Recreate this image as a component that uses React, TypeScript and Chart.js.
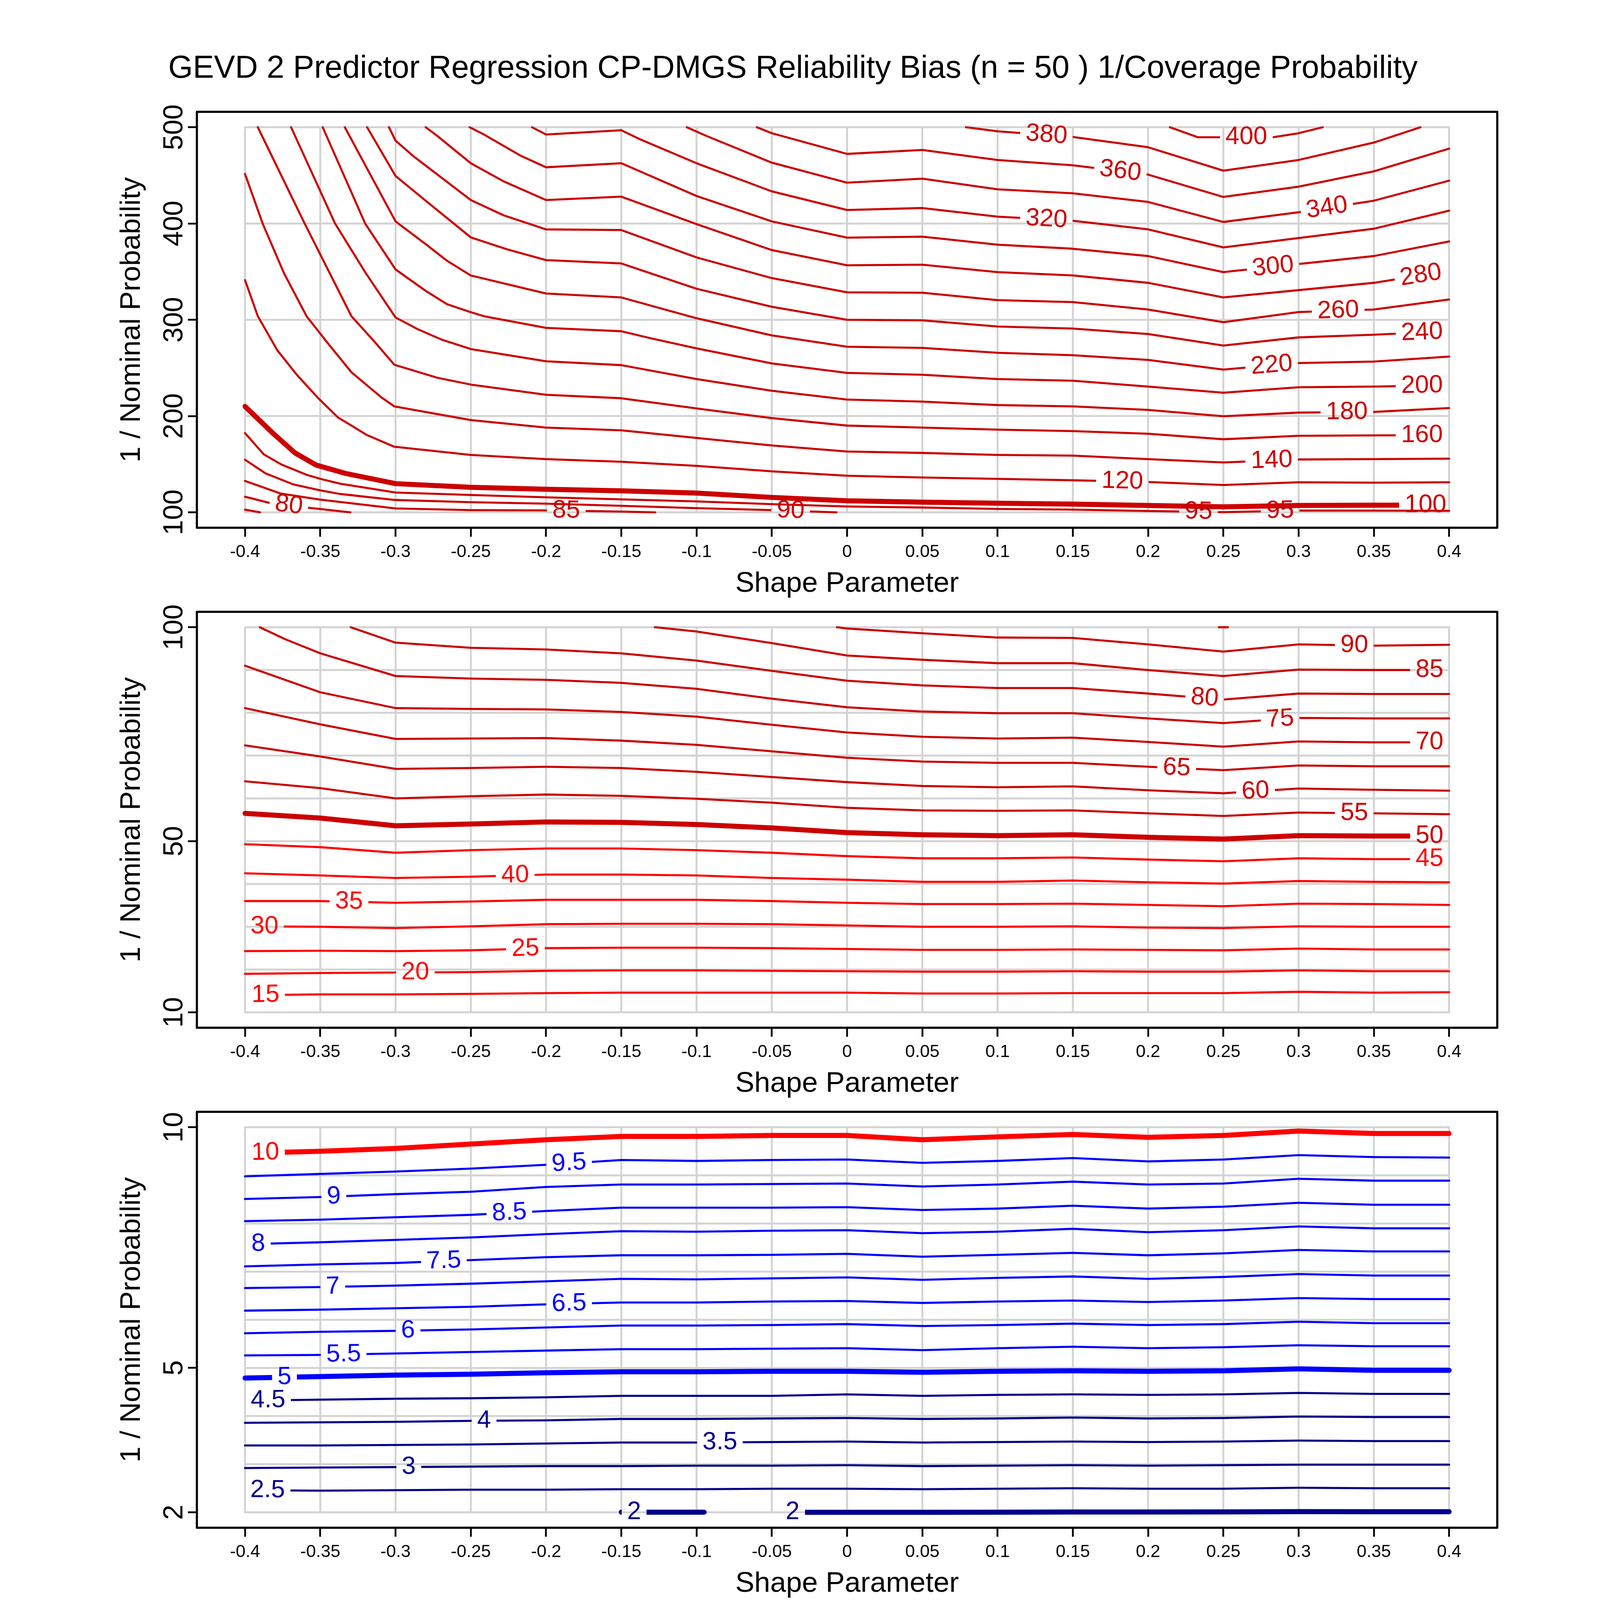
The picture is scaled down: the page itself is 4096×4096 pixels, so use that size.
import React, { useEffect, useRef } from 'react';
import { Chart, registerables } from 'chart.js';

Chart.register(...registerables);

type Pt = [number, number];

const FONT = "'Liberation Sans', Arial, Helvetica, sans-serif";

const TITLE = 'GEVD 2 Predictor Regression CP-DMGS Reliability Bias (n = 50 ) 1/Coverage Probability';
const X_TITLE = 'Shape Parameter';
const Y_TITLE = '1 / Nominal Probability';

const SHAPES = [-0.4, -0.35, -0.3, -0.25, -0.2, -0.15, -0.1, -0.05, 0, 0.05, 0.1, 0.15, 0.2, 0.25, 0.3, 0.35, 0.4];
const X_TICK_LABELS = ['-0.4', '-0.35', '-0.3', '-0.25', '-0.2', '-0.15', '-0.1', '-0.05', '0', '0.05', '0.1', '0.15', '0.2', '0.25', '0.3', '0.35', '0.4'];

const onShapes = (ys: number[]): Pt[] => ys.map((y, i) => [SHAPES[i], y] as Pt);

// ---------------- Panel 1 (100 - 500) ----------------
const P1_RANGE = [100, 500];
const P1_GRID_Y = [100, 200, 300, 400, 500];
const P1_TICKS_Y = [100, 200, 300, 400, 500];
const P1_BOLD = [100];
const P1_LEVELS = [75, 80, 85, 90, 95, 100, 120, 140, 160, 180, 200, 220, 240, 260, 280, 300, 320, 340, 360, 380, 400];
const P1_LINES: Pt[][] = [
  [[-0.4, 102.8], [-0.39, 100]],
  [[-0.4, 116.2], [-0.3838, 109.8], [-0.3574, 104.6], [-0.35, 103.4], [-0.33, 100]],
  [[-0.4, 132.6], [-0.3765, 119.6], [-0.35, 113.2], [-0.3, 104.0], [-0.25, 102.3], [-0.2, 102.0], [-0.1734, 101.4], [-0.15, 100.8], [-0.1275, 100]],
  [[-0.4, 154.6], [-0.3863, 140.4], [-0.3681, 129.1], [-0.35, 122.8], [-0.337, 119.1], [-0.3, 112.8], [-0.25, 110.5], [-0.2, 109.0], [-0.15, 106.8], [-0.1, 104.3], [-0.05, 102.3], [-0.007, 100]],
  [[-0.4, 182.3], [-0.3876, 160.3], [-0.3759, 149.7], [-0.3591, 139.0], [-0.35, 134.8], [-0.337, 129.8], [-0.3, 120.6], [-0.25, 118.0], [-0.2, 115.6], [-0.15, 113.5], [-0.1, 111.3], [-0.05, 108.5], [0, 106.1], [0.05, 105.0], [0.1, 103.5], [0.15, 102.8], [0.2, 101.4], [0.25, 100.2], [0.3, 101.9], [0.35, 101.8], [0.4, 101.6]],
  [[-0.4, 210], [-0.3915, 197.2], [-0.3811, 181.6], [-0.3668, 161.7], [-0.3526, 149.0], [-0.3332, 140.4], [-0.3, 129.8], [-0.25, 126.0], [-0.2, 124.0], [-0.15, 122.3], [-0.1, 120.0], [-0.05, 115.5], [0, 112.0], [0.05, 110.6], [0.1, 109.5], [0.15, 108.5], [0.2, 107.1], [0.25, 105.7], [0.3, 107.1], [0.35, 107.4], [0.4, 107.4]],
  [[-0.4, 341.2], [-0.3915, 303.7], [-0.3785, 268.2], [-0.3655, 242.7], [-0.3513, 218.5], [-0.3383, 198.6], [-0.3293, 190.1], [-0.3189, 180.2], [-0.3008, 168.1], [-0.25, 159.6], [-0.2, 155.3], [-0.15, 152.5], [-0.1, 148.3], [-0.05, 142.6], [0, 138.0], [0.05, 136.2], [0.1, 134.8], [0.15, 133.3], [0.2, 131.5], [0.25, 128.4], [0.3, 131.2], [0.35, 130.8], [0.4, 131.2]],
  [[-0.4, 451.5], [-0.3883, 400], [-0.374, 348], [-0.3591, 303.7], [-0.3448, 275.3], [-0.3293, 245.5], [-0.3098, 219.9], [-0.3008, 210.0], [-0.25, 195.8], [-0.2, 188.0], [-0.15, 185.2], [-0.1, 177.3], [-0.05, 169.5], [0, 163.2], [0.05, 161.7], [0.1, 159.6], [0.15, 158.9], [0.2, 155.3], [0.25, 151.8], [0.3, 154.9], [0.35, 155.3], [0.4, 155.8]],
  [[-0.3915, 500], [-0.3604, 400], [-0.3293, 303.7], [-0.3137, 276.7], [-0.3008, 253.3], [-0.2723, 239.8], [-0.25, 232.7], [-0.2, 222.1], [-0.15, 218.5], [-0.1, 207.9], [-0.05, 197.9], [0, 190.1], [0.05, 188.0], [0.1, 185.9], [0.15, 184.4], [0.2, 181.6], [0.25, 175.9], [0.3, 179.5], [0.35, 179.9], [0.4, 180.2]],
  [[-0.3694, 500], [-0.3402, 400], [-0.32, 349], [-0.3, 302.4], [-0.2852, 290.2], [-0.2697, 279.6], [-0.25, 269.6], [-0.2, 256.9], [-0.15, 252.9], [-0.1, 238.4], [-0.05, 226.3], [0, 217.1], [0.05, 215.0], [0.1, 211.4], [0.15, 210.0], [0.2, 206.4], [0.25, 199.8], [0.3, 203.6], [0.35, 204.3], [0.4, 208.3]],
  [[-0.3484, 500], [-0.3202, 400], [-0.3, 352.3], [-0.28, 330.1], [-0.2658, 316.2], [-0.25, 307.9], [-0.2412, 303.7], [-0.2, 291.6], [-0.15, 288.1], [-0.131, 281.0], [-0.1, 270.3], [-0.05, 254.7], [0, 244.8], [0.05, 242.9], [0.1, 238.4], [0.15, 236.7], [0.2, 230.6], [0.25, 224.2], [0.3, 229.9], [0.35, 230.6], [0.4, 232.0]],
  [[-0.3337, 500], [-0.3, 402.2], [-0.28, 378.6], [-0.2658, 361.3], [-0.25, 346.0], [-0.2, 327.3], [-0.15, 323.2], [-0.1, 301.6], [-0.05, 283.8], [0, 272.0], [0.05, 270.8], [0.1, 265.7], [0.15, 263.2], [0.2, 258.3], [0.25, 248.3], [0.3, 255.1], [0.35, 256.6], [0.4, 261.8]],
  [[-0.3189, 500], [-0.3, 449.4], [-0.28, 423.7], [-0.25, 385.6], [-0.2257, 373.1], [-0.2, 362.0], [-0.15, 358.5], [-0.1, 332.2], [-0.05, 313.5], [0, 300.0], [0.05, 299.4], [0.1, 293.0], [0.15, 290.9], [0.2, 285.2], [0.25, 273.2], [0.3, 281.7], [0.35, 284.5], [0.4, 288.0]],
  [[-0.3044, 500], [-0.3, 486.1], [-0.2878, 469.5], [-0.25, 424.4], [-0.2282, 408.5], [-0.2, 393.9], [-0.15, 393.2], [-0.1, 364.8], [-0.05, 343.3], [0, 328.5], [0.05, 328.1], [0.1, 320.4], [0.15, 318.4], [0.2, 310.7], [0.25, 297.5], [0.3, 308.0], [0.35, 310.7], [0.4, 321.1]],
  [[-0.28, 500], [-0.2723, 491.0], [-0.25, 462.6], [-0.2282, 443.8], [-0.2, 424.4], [-0.15, 427.9], [-0.1, 399.4], [-0.05, 372.4], [0, 356.6], [0.05, 357.2], [0.1, 349.5], [0.15, 346.1], [0.2, 338.4], [0.25, 323.2], [0.3, 330.8], [0.35, 338.4], [0.4, 350.9]],
  [[-0.2508, 500], [-0.2412, 492.4], [-0.2166, 470.2], [-0.2, 458.4], [-0.15, 462.6], [-0.1, 428.6], [-0.05, 402.2], [0, 385.3], [0.05, 386.3], [0.1, 378.0], [0.15, 373.8], [0.2, 366.2], [0.25, 349.5], [0.3, 357.9], [0.35, 366.2], [0.4, 381.4]],
  [[-0.2093, 500], [-0.2, 492.4], [-0.15, 496.9], [-0.1376, 487.5], [-0.1, 462.6], [-0.05, 433.4], [0, 414.0], [0.05, 416.1], [0.1, 407.1], [0.15, 402.9], [0.2, 393.9], [0.25, 375.2], [0.3, 384.9], [0.35, 394.6], [0.4, 413.3]],
  [[-0.1065, 500], [-0.0935, 491.0], [-0.05, 463.2], [0, 442.4], [0.05, 446.6], [0.1, 435.5], [0.15, 431.4], [0.2, 422.4], [0.25, 401.6], [0.3, 411.7], [0.35, 423.7], [0.4, 444.5]],
  [[-0.06, 500], [-0.05, 493.8], [0, 472.3], [0.05, 476.4], [0.1, 466.0], [0.15, 460.5], [0.2, 450.8], [0.25, 427.6], [0.3, 438.3], [0.35, 454.2], [0.4, 477.8]],
  [[0.079, 500], [0.1, 495.8], [0.15, 489.9], [0.2, 479.2], [0.25, 454.9], [0.3, 466.0], [0.35, 484.1], [0.381, 500]],
  [[0.2145, 500], [0.233, 489.6], [0.25, 489.6], [0.283, 489.6], [0.3, 493.8], [0.316, 500]],
];
const P1_LABEL_AT: number[][] = [
  [], [-0.3709], [-0.1866], [-0.0375], [0.2335, 0.2877], [0.3843], [0.1829], [0.2821], [0.382], [0.3321],
  [0.382], [0.2821], [0.382], [0.3263], [0.3812], [0.283], [0.1325], [0.3188], [0.1816], [0.1325], [0.2653],
];

// ---------------- Panel 2 (10 - 100) ----------------
const P2_RANGE = [10, 100];
const P2_GRID_Y = [10, 20, 30, 40, 50, 60, 70, 80, 90, 100];
const P2_TICKS_Y = [10, 50, 100];
const P2_BOLD = [50];
const P2_LEVELS = [15, 20, 25, 30, 35, 40, 45, 50, 55, 60, 65, 70, 75, 80, 85, 90, 95];
const P2_LINES: Pt[][] = [
  onShapes([14.0, 14.2, 14.2, 14.3, 14.5, 14.6, 14.6, 14.6, 14.6, 14.4, 14.4, 14.5, 14.5, 14.5, 14.8, 14.6, 14.7]),
  onShapes([19.0, 19.2, 19.3, 19.4, 19.7, 19.8, 19.8, 19.7, 19.6, 19.5, 19.5, 19.6, 19.5, 19.5, 19.8, 19.6, 19.6]),
  onShapes([24.3, 24.4, 24.3, 24.5, 25.0, 25.1, 25.1, 25.0, 24.8, 24.6, 24.6, 24.7, 24.6, 24.5, 24.9, 24.7, 24.7]),
  onShapes([30.1, 30.0, 29.7, 30.1, 30.6, 30.7, 30.7, 30.6, 30.3, 30.0, 30.0, 30.1, 29.8, 29.7, 30.1, 30.0, 30.0]),
  onShapes([36.0, 36.0, 35.6, 35.9, 36.3, 36.3, 36.3, 36.0, 35.6, 35.3, 35.3, 35.4, 35.1, 34.8, 35.4, 35.3, 35.1]),
  onShapes([42.5, 42.0, 41.4, 41.7, 42.2, 42.2, 42.0, 41.4, 41.0, 40.5, 40.5, 40.8, 40.4, 40.1, 40.7, 40.5, 40.4]),
  onShapes([49.3, 48.6, 47.3, 47.9, 48.3, 48.3, 47.9, 47.3, 46.5, 46.0, 46.0, 46.2, 45.7, 45.3, 46.0, 45.8, 45.8]),
  onShapes([56.5, 55.4, 53.6, 54.0, 54.5, 54.4, 53.9, 53.1, 52.0, 51.5, 51.3, 51.5, 50.9, 50.5, 51.3, 51.2, 51.2]),
  onShapes([64.0, 62.4, 60.0, 60.5, 60.9, 60.6, 59.9, 59.0, 57.8, 57.2, 57.1, 57.2, 56.5, 55.9, 56.7, 56.5, 56.3]),
  onShapes([72.4, 69.8, 66.9, 67.1, 67.4, 67.1, 66.2, 65.0, 63.8, 62.9, 62.6, 62.8, 61.9, 61.2, 62.3, 62.0, 61.8]),
  onShapes([81.1, 77.3, 73.9, 74.0, 74.1, 73.5, 72.5, 71.0, 69.5, 68.6, 68.3, 68.3, 67.4, 66.6, 67.7, 67.5, 67.5]),
  onShapes([91.0, 84.8, 81.1, 80.9, 80.8, 80.2, 79.1, 77.2, 75.4, 74.4, 74.0, 74.2, 73.2, 72.1, 73.3, 73.1, 73.1]),
  [[-0.3902, 100], [-0.3733, 97.2], [-0.35, 93.9], [-0.3, 88.6], [-0.25, 88.0], [-0.2, 87.7], [-0.15, 87.0], [-0.1, 85.6], [-0.05, 83.3], [0, 81.3], [0.05, 80.3], [0.1, 79.9], [0.15, 79.9], [0.2, 78.7], [0.25, 77.6], [0.3, 78.8], [0.35, 78.7], [0.4, 78.7]],
  [[-0.3298, 100], [-0.3, 96.4], [-0.25, 95.2], [-0.2, 94.8], [-0.15, 93.9], [-0.1, 92.2], [-0.05, 89.8], [0, 87.5], [0.05, 86.4], [0.1, 85.8], [0.15, 85.8], [0.2, 84.5], [0.25, 83.1], [0.3, 84.5], [0.35, 84.4], [0.4, 84.4]],
  [[-0.1277, 100], [-0.1, 99.0], [-0.05, 96.3], [0, 93.4], [0.05, 92.4], [0.1, 91.6], [0.15, 91.6], [0.2, 90.0], [0.25, 88.6], [0.3, 90.1], [0.35, 90.0], [0.4, 90.0]],
  [[-0.0067, 100], [0, 99.7], [0.05, 98.6], [0.1, 97.6], [0.15, 97.5], [0.2, 96.0], [0.25, 94.3], [0.3, 96.0], [0.35, 95.7], [0.4, 95.9]],
  [[0.247, 100], [0.253, 100]],
];
const P2_LABEL_AT: number[][] = [
  [-0.3864], [-0.2869], [-0.2137], [-0.3871], [-0.3309], [-0.2205], [0.387], [0.387], [0.337],
  [0.2714], [0.219], [0.387], [0.2877], [0.2376], [0.387], [0.337], [],
];

// ---------------- Panel 3 (2 - 10) ----------------
const P3_RANGE = [2, 10];
const P3_GRID_Y = [2, 3, 4, 5, 6, 7, 8, 9, 10];
const P3_TICKS_Y = [2, 5, 10];
const P3_BOLD = [2, 5, 10];
const P3_LEVELS = [2, 2, 2.5, 3, 3.5, 4, 4.5, 5, 5.5, 6, 6.5, 7, 7.5, 8, 8.5, 9, 9.5, 10];
const P3_LINES: Pt[][] = [
  [[-0.15, 2.003], [-0.095, 2.003]],
  [[-0.042, 2.0], [0, 2.0], [0.05, 2.0], [0.1, 2.003], [0.15, 2.006], [0.2, 2.006], [0.25, 2.008], [0.3, 2.015], [0.35, 2.012], [0.4, 2.012]],
  onShapes([2.46, 2.45, 2.46, 2.47, 2.47, 2.48, 2.48, 2.49, 2.49, 2.48, 2.49, 2.50, 2.49, 2.49, 2.51, 2.50, 2.50]),
  onShapes([2.92, 2.93, 2.94, 2.95, 2.96, 2.96, 2.97, 2.97, 2.98, 2.96, 2.97, 2.98, 2.97, 2.98, 2.99, 2.99, 2.99]),
  onShapes([3.39, 3.39, 3.40, 3.41, 3.43, 3.45, 3.45, 3.46, 3.47, 3.45, 3.46, 3.47, 3.46, 3.47, 3.49, 3.48, 3.48]),
  onShapes([3.86, 3.87, 3.88, 3.90, 3.91, 3.94, 3.94, 3.95, 3.96, 3.94, 3.95, 3.97, 3.95, 3.96, 3.99, 3.98, 3.98]),
  onShapes([4.32, 4.34, 4.36, 4.37, 4.39, 4.42, 4.42, 4.42, 4.45, 4.42, 4.44, 4.45, 4.44, 4.45, 4.48, 4.46, 4.46]),
  onShapes([4.79, 4.82, 4.85, 4.87, 4.90, 4.92, 4.92, 4.93, 4.93, 4.91, 4.93, 4.94, 4.93, 4.94, 4.98, 4.95, 4.95]),
  onShapes([5.26, 5.27, 5.30, 5.33, 5.36, 5.39, 5.39, 5.40, 5.41, 5.37, 5.41, 5.44, 5.41, 5.43, 5.47, 5.45, 5.45]),
  onShapes([5.72, 5.75, 5.77, 5.80, 5.84, 5.88, 5.88, 5.89, 5.91, 5.87, 5.89, 5.92, 5.89, 5.91, 5.96, 5.93, 5.93]),
  onShapes([6.19, 6.21, 6.24, 6.27, 6.32, 6.36, 6.36, 6.38, 6.39, 6.35, 6.38, 6.40, 6.37, 6.40, 6.45, 6.43, 6.43]),
  onShapes([6.66, 6.68, 6.71, 6.75, 6.80, 6.85, 6.84, 6.86, 6.88, 6.83, 6.87, 6.90, 6.85, 6.89, 6.95, 6.92, 6.92]),
  onShapes([7.11, 7.15, 7.18, 7.24, 7.30, 7.34, 7.34, 7.35, 7.37, 7.31, 7.35, 7.39, 7.34, 7.38, 7.45, 7.42, 7.42]),
  onShapes([7.57, 7.61, 7.66, 7.71, 7.78, 7.84, 7.83, 7.85, 7.86, 7.80, 7.83, 7.89, 7.82, 7.86, 7.94, 7.90, 7.90]),
  onShapes([8.05, 8.08, 8.13, 8.18, 8.26, 8.33, 8.33, 8.33, 8.34, 8.28, 8.31, 8.37, 8.31, 8.35, 8.43, 8.39, 8.39]),
  onShapes([8.51, 8.55, 8.61, 8.66, 8.76, 8.81, 8.81, 8.82, 8.83, 8.77, 8.81, 8.87, 8.81, 8.83, 8.93, 8.89, 8.89]),
  onShapes([8.98, 9.03, 9.08, 9.14, 9.22, 9.32, 9.30, 9.32, 9.33, 9.26, 9.30, 9.36, 9.29, 9.33, 9.42, 9.38, 9.37]),
  onShapes([9.46, 9.50, 9.56, 9.65, 9.74, 9.81, 9.81, 9.83, 9.83, 9.74, 9.80, 9.85, 9.79, 9.83, 9.92, 9.87, 9.87]),
];
const P3_LABEL_AT: number[][] = [
  [-0.1415], [-0.0362], [-0.385], [-0.2912], [-0.0845], [-0.2412], [-0.3847], [-0.3738], [-0.3345],
  [-0.2917], [-0.1847], [-0.3417], [-0.2679], [-0.3912], [-0.2244], [-0.341], [-0.1847], [-0.3865],
];

// ---------------- Layout / style ----------------
const W = 4096;
const PANEL_H = 1280;
const TOP_SPACE = 256;
const AREA_LEFT = 504;
const AREA_RIGHT = 3833;
const AREA_TOP = 30.3;
const AREA_BOTTOM = 1095;
const THIN_W = 5.3;
const BOLD_W = 13;
const GRID_W = 5.0;
const GRID_COLOR = '#D3D3D3';
const FRAME_W = 5.5;
const TICK_LEN = 23;
const TICK_W = 4.6;
const LABEL_SIZE = 64;
const LABEL_PAD = 14;
const YTICK_SIZE = 70;
const YTICK_BASE_X = 467;
const XTICK_SIZE = 45;
const AXIS_TITLE_SIZE = 73;
const TITLE_SIZE = 81;
const TITLE_SHIFT_X = -18;

interface Panel {
  range: number[];
  gridY: number[];
  ticksY: number[];
  bold: number[];
  levels: number[];
  lines: Pt[][];
  labelAt: number[][];
}

const PANELS: Panel[] = [
  { range: P1_RANGE, gridY: P1_GRID_Y, ticksY: P1_TICKS_Y, bold: P1_BOLD, levels: P1_LEVELS, lines: P1_LINES, labelAt: P1_LABEL_AT },
  { range: P2_RANGE, gridY: P2_GRID_Y, ticksY: P2_TICKS_Y, bold: P2_BOLD, levels: P2_LEVELS, lines: P2_LINES, labelAt: P2_LABEL_AT },
  { range: P3_RANGE, gridY: P3_GRID_Y, ticksY: P3_TICKS_Y, bold: P3_BOLD, levels: P3_LEVELS, lines: P3_LINES, labelAt: P3_LABEL_AT },
];

function levelColor(level: number): string {
  if (level >= 50) return '#CC0000';
  if (level >= 10) return '#FF0000';
  if (level >= 5) return '#0000FF';
  return '#00008B';
}

function yAt(pts: { x: number; y: number }[], px: number): number {
  if (px <= pts[0].x) return pts[0].y;
  for (let i = 1; i < pts.length; i++) {
    if (px <= pts[i].x) {
      const a = pts[i - 1];
      const b = pts[i];
      const d = b.x - a.x || 1;
      return a.y + ((px - a.x) / d) * (b.y - a.y);
    }
  }
  return pts[pts.length - 1].y;
}

interface LabelGeo { px: number; py: number; ang: number; w: number; hwL: number; hwR: number; text: string }

function labelGeometry(chart: any, panel: Panel, idx: number): LabelGeo[] {
  const xs = chart.scales.x;
  const ys = chart.scales.y;
  const at = panel.labelAt[idx] || [];
  if (!at.length) return [];
  const line = panel.lines[idx];
  const pts = line.map(([x, y]) => ({ x: xs.getPixelForValue(x), y: ys.getPixelForValue(y) }));
  const level = panel.levels[idx];
  const lw = panel.bold.includes(level) ? BOLD_W : THIN_W;
  const text = String(level);
  const ctx = chart.ctx as CanvasRenderingContext2D;
  ctx.save();
  ctx.font = `${LABEL_SIZE}px ${FONT}`;
  const w = ctx.measureText(text).width;
  ctx.restore();
  const startsAtEdge = Math.abs(line[0][0] - SHAPES[0]) < 1e-9;
  const endsAtEdge = Math.abs(line[line.length - 1][0] - SHAPES[SHAPES.length - 1]) < 1e-9;
  const sx = pts[0].x;
  const ex = pts[pts.length - 1].x;
  return at.map((lx) => {
    const px = xs.getPixelForValue(lx);
    const py = yAt(pts, px);
    const yl = yAt(pts, px - w / 2);
    const yr = yAt(pts, px + w / 2);
    const ang = Math.atan2(yr - yl, w);
    let hwL = w / 2 + LABEL_PAD;
    let hwR = w / 2 + LABEL_PAD;
    if (startsAtEdge && px - hwL - sx < lw * 1.5) hwL = px - sx + lw;
    if (endsAtEdge && ex - (px + hwR) < lw * 1.5) hwR = ex - px + lw;
    return { px, py, ang, w, hwL, hwR, text };
  });
}

function makePlugins(panel: Panel) {
  const clipped: Record<number, boolean> = {};

  const gridPlugin = {
    id: 'dataGrid',
    beforeDatasetsDraw(chart: any) {
      const ctx = chart.ctx as CanvasRenderingContext2D;
      const xs = chart.scales.x;
      const ys = chart.scales.y;
      const x0 = xs.getPixelForValue(SHAPES[0]);
      const x1 = xs.getPixelForValue(SHAPES[SHAPES.length - 1]);
      const y0 = ys.getPixelForValue(panel.range[0]);
      const y1 = ys.getPixelForValue(panel.range[1]);
      ctx.save();
      ctx.strokeStyle = GRID_COLOR;
      ctx.lineWidth = GRID_W;
      ctx.lineCap = 'butt';
      ctx.beginPath();
      SHAPES.forEach((v) => {
        const px = xs.getPixelForValue(v);
        ctx.moveTo(px, y1 - GRID_W / 2);
        ctx.lineTo(px, y0 + GRID_W / 2);
      });
      panel.gridY.forEach((v) => {
        const py = ys.getPixelForValue(v);
        ctx.moveTo(x0 - GRID_W / 2, py);
        ctx.lineTo(x1 + GRID_W / 2, py);
      });
      ctx.stroke();
      ctx.restore();
    },
  };

  const labelPlugin = {
    id: 'contourLabels',
    beforeDatasetDraw(chart: any, args: any) {
      const idx = args.index;
      const geos = labelGeometry(chart, panel, idx);
      if (!geos.length) return;
      const ctx = chart.ctx as CanvasRenderingContext2D;
      ctx.save();
      ctx.beginPath();
      ctx.rect(0, 0, chart.width, chart.height);
      const hh = LABEL_SIZE * 0.42;
      geos.forEach((g) => {
        const c = Math.cos(g.ang);
        const s = Math.sin(g.ang);
        const corners = [[-g.hwL, -hh], [g.hwR, -hh], [g.hwR, hh], [-g.hwL, hh]].map(([a, b]) => [g.px + a * c - b * s, g.py + a * s + b * c]);
        ctx.moveTo(corners[0][0], corners[0][1]);
        for (let k = 1; k < 4; k++) ctx.lineTo(corners[k][0], corners[k][1]);
        ctx.closePath();
      });
      ctx.clip('evenodd');
      clipped[idx] = true;
    },
    afterDatasetDraw(chart: any, args: any) {
      const idx = args.index;
      if (!clipped[idx]) return;
      const ctx = chart.ctx as CanvasRenderingContext2D;
      ctx.restore();
      clipped[idx] = false;
      const geos = labelGeometry(chart, panel, idx);
      const color = levelColor(panel.levels[idx]);
      geos.forEach((g) => {
        ctx.save();
        ctx.fillStyle = color;
        ctx.font = `${LABEL_SIZE}px ${FONT}`;
        ctx.textAlign = 'center';
        ctx.textBaseline = 'middle';
        ctx.translate(g.px, g.py);
        ctx.rotate(g.ang);
        ctx.fillText(g.text, 0, 0);
        ctx.restore();
      });
    },
  };

  const framePlugin = {
    id: 'frameAndYLabels',
    afterDatasetsDraw(chart: any) {
      const ctx = chart.ctx as CanvasRenderingContext2D;
      const a = chart.chartArea;
      ctx.save();
      ctx.strokeStyle = '#000';
      ctx.lineWidth = FRAME_W;
      ctx.lineJoin = 'round';
      ctx.strokeRect(a.left, a.top, a.right - a.left, a.bottom - a.top);
      const ys = chart.scales.y;
      ctx.fillStyle = '#000';
      ctx.font = `${YTICK_SIZE}px ${FONT}`;
      ctx.textAlign = 'center';
      ctx.textBaseline = 'alphabetic';
      panel.ticksY.forEach((v) => {
        const py = ys.getPixelForValue(v);
        ctx.save();
        ctx.translate(YTICK_BASE_X, py);
        ctx.rotate(-Math.PI / 2);
        ctx.fillText(String(v), 0, 0);
        ctx.restore();
      });
      ctx.restore();
    },
  };

  return [gridPlugin, labelPlugin, framePlugin];
}

function buildChart(canvas: HTMLCanvasElement, panel: Panel): Chart {
  const [lo, hi] = panel.range;
  const ext = (hi - lo) * 0.04;
  const xExt = (SHAPES[SHAPES.length - 1] - SHAPES[0]) * 0.04;
  const datasets = panel.lines.map((line, i) => {
    const level = panel.levels[i];
    const color = levelColor(level);
    return {
      label: String(level),
      data: line.map(([x, y]) => ({ x, y })),
      showLine: true,
      borderColor: color,
      backgroundColor: color,
      borderWidth: panel.bold.includes(level) ? BOLD_W : THIN_W,
      borderCapStyle: 'round' as const,
      borderJoinStyle: 'round' as const,
      pointRadius: 0,
      pointHoverRadius: 0,
      pointHitRadius: 0,
      tension: 0,
      fill: false,
    };
  });

  const tickGrid = {
    display: true,
    drawOnChartArea: false,
    drawTicks: true,
    tickLength: TICK_LEN,
    tickWidth: TICK_W,
    tickColor: '#000',
    color: '#000',
  };

  return new Chart(canvas, {
    type: 'scatter',
    data: { datasets },
    plugins: makePlugins(panel) as any,
    options: {
      animation: false,
      responsive: false,
      maintainAspectRatio: false,
      devicePixelRatio: 1,
      events: [],
      layout: { padding: { left: 0, right: W - AREA_RIGHT, top: AREA_TOP, bottom: 0 } },
      plugins: { legend: { display: false }, tooltip: { enabled: false }, title: { display: false } },
      scales: {
        x: {
          type: 'linear',
          position: 'bottom',
          min: SHAPES[0] - xExt,
          max: SHAPES[SHAPES.length - 1] + xExt,
          afterBuildTicks: (s: any) => {
            s.ticks = SHAPES.map((v) => ({ value: v }));
          },
          afterFit: (s: any) => {
            s.height = PANEL_H - AREA_BOTTOM;
          },
          ticks: {
            callback: (_v: any, i: number) => X_TICK_LABELS[i],
            font: { family: FONT, size: XTICK_SIZE },
            color: '#000',
            padding: 13,
            maxRotation: 0,
            minRotation: 0,
            autoSkip: false,
          },
          grid: tickGrid,
          border: { display: false },
          title: {
            display: true,
            text: X_TITLE,
            color: '#000',
            font: { family: FONT, size: AXIS_TITLE_SIZE },
            padding: { top: 0, bottom: -3 },
          },
        },
        y: {
          type: 'linear',
          position: 'left',
          min: lo - ext,
          max: hi + ext,
          afterBuildTicks: (s: any) => {
            s.ticks = panel.ticksY.map((v) => ({ value: v }));
          },
          afterFit: (s: any) => {
            s.width = AREA_LEFT;
          },
          ticks: { display: false },
          grid: tickGrid,
          border: { display: false },
          title: {
            display: true,
            text: Y_TITLE,
            color: '#000',
            font: { family: FONT, size: AXIS_TITLE_SIZE },
            padding: { top: 294, bottom: 0 },
          },
        },
      },
    } as any,
  });
}

export default function App() {
  const refs = useRef<(HTMLCanvasElement | null)[]>([]);

  useEffect(() => {
    const charts: Chart[] = [];
    PANELS.forEach((p, i) => {
      const c = refs.current[i];
      if (c) charts.push(buildChart(c, p));
    });
    return () => {
      charts.forEach((c) => c.destroy());
    };
  }, []);

  return (
    <div style={{ position: 'fixed', left: 0, top: 0, width: W, height: 4096, background: '#fff', overflow: 'hidden' }}>
      <div
        style={{
          position: 'absolute',
          left: TITLE_SHIFT_X,
          top: 130.8,
          width: W,
          textAlign: 'center',
          fontFamily: FONT,
          fontSize: TITLE_SIZE,
          lineHeight: `${TITLE_SIZE}px`,
          whiteSpace: 'nowrap',
          color: '#000',
        }}
      >
        {TITLE}
      </div>
      {PANELS.map((_, i) => (
        <canvas
          key={i}
          ref={(el) => {
            refs.current[i] = el;
          }}
          width={W}
          height={PANEL_H}
          style={{ position: 'absolute', left: 0, top: TOP_SPACE + PANEL_H * i, width: W, height: PANEL_H }}
        />
      ))}
    </div>
  );
}
